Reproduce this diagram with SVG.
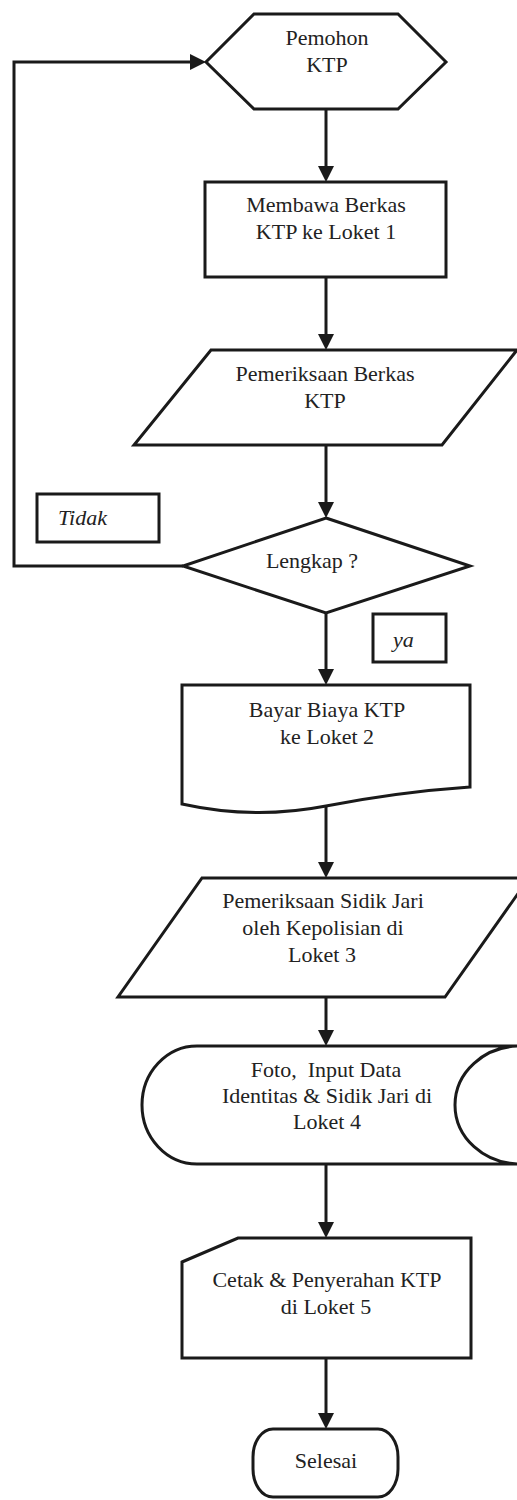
<svg xmlns="http://www.w3.org/2000/svg" width="517" height="1500" viewBox="0 0 517 1500">
<style>
.n{fill:#fff;stroke:#1a1a1a;stroke-width:3;stroke-linejoin:miter}
.c{fill:none;stroke:#1a1a1a;stroke-width:3}
text{font-family:'Liberation Serif','Tinos','DejaVu Serif',serif;font-size:22px;fill:#222;text-anchor:middle;white-space:pre}
.i{font-style:italic;text-anchor:start}
</style>
<defs>
<marker id="arr" markerWidth="16" markerHeight="16" refX="8" refY="8" orient="auto" markerUnits="userSpaceOnUse">
<path d="M0,0 L16,8 L0,16 z" fill="#1a1a1a"/>
</marker>
</defs>
<rect width="517" height="1500" fill="#fff"/>
<g id="connectors">
<path class="c" d="M326,109 V174" marker-end="url(#arr)"/>
<path class="c" d="M326,277 V342" marker-end="url(#arr)"/>
<path class="c" d="M326,445 V510" marker-end="url(#arr)"/>
<path class="c" d="M326,613 V677" marker-end="url(#arr)"/>
<path class="c" d="M326,806 V870" marker-end="url(#arr)"/>
<path class="c" d="M326,997 V1038" marker-end="url(#arr)"/>
<path class="c" d="M326,1164 V1230" marker-end="url(#arr)"/>
<path class="c" d="M326,1358 V1421" marker-end="url(#arr)"/>
<path class="c" d="M183,566 H14 V62 H198" marker-end="url(#arr)"/>
</g>
<g id="pemohon">
<polygon class="n" points="254,14 398,14 446,62 398,109 254,109 206,62"/>
<text x="327" y="45">Pemohon</text>
<text x="327" y="72">KTP</text>
</g>
<g id="membawa">
<rect class="n" x="205" y="182" width="241" height="95"/>
<text x="326" y="212">Membawa Berkas</text>
<text x="326" y="239">KTP ke Loket 1</text>
</g>
<g id="pemeriksaan-berkas">
<polygon class="n" points="211,350 517,350 442,445 134,445"/>
<text x="325" y="381">Pemeriksaan Berkas</text>
<text x="325" y="408">KTP</text>
</g>
<g id="lengkap">
<polygon class="n" points="326,518 470,566 326,613 183,566"/>
<text x="312" y="568">Lengkap ?</text>
</g>
<g id="tidak">
<rect class="n" x="37" y="494" width="122" height="48"/>
<text class="i" x="58" y="525">Tidak</text>
</g>
<g id="ya">
<rect class="n" x="373" y="614" width="73" height="48"/>
<text class="i" x="393" y="647">ya</text>
</g>
<g id="bayar">
<path class="n" d="M182,685 H470 V787 Q398,792 326,806 Q254,820 182,804 Z"/>
<text x="327" y="717">Bayar Biaya KTP</text>
<text x="327" y="744">ke Loket 2</text>
</g>
<g id="sidik-jari">
<polygon class="n" points="202,878 529,878 445,997 118,997"/>
<text x="323" y="908">Pemeriksaan Sidik Jari</text>
<text x="323" y="935">oleh Kepolisian di</text>
<text x="322" y="962">Loket 3</text>
</g>
<g id="foto">
<path class="n" d="M197,1046 H520 A65 59 0 0 0 520,1164 H197 A55 59 0 0 1 197,1046 Z"/>
<text x="326" y="1077">Foto,  Input Data</text>
<text x="327" y="1103">Identitas &amp; Sidik Jari di</text>
<text x="327" y="1129">Loket 4</text>
</g>
<g id="cetak">
<polygon class="n" points="182,1262 238,1238 471,1238 471,1358 182,1358"/>
<text x="327" y="1287">Cetak &amp; Penyerahan KTP</text>
<text x="326" y="1314">di Loket 5</text>
</g>
<g id="selesai">
<rect class="n" x="253" y="1429" width="145" height="68" rx="20" ry="28"/>
<text x="326" y="1468">Selesai</text>
</g>
</svg>
